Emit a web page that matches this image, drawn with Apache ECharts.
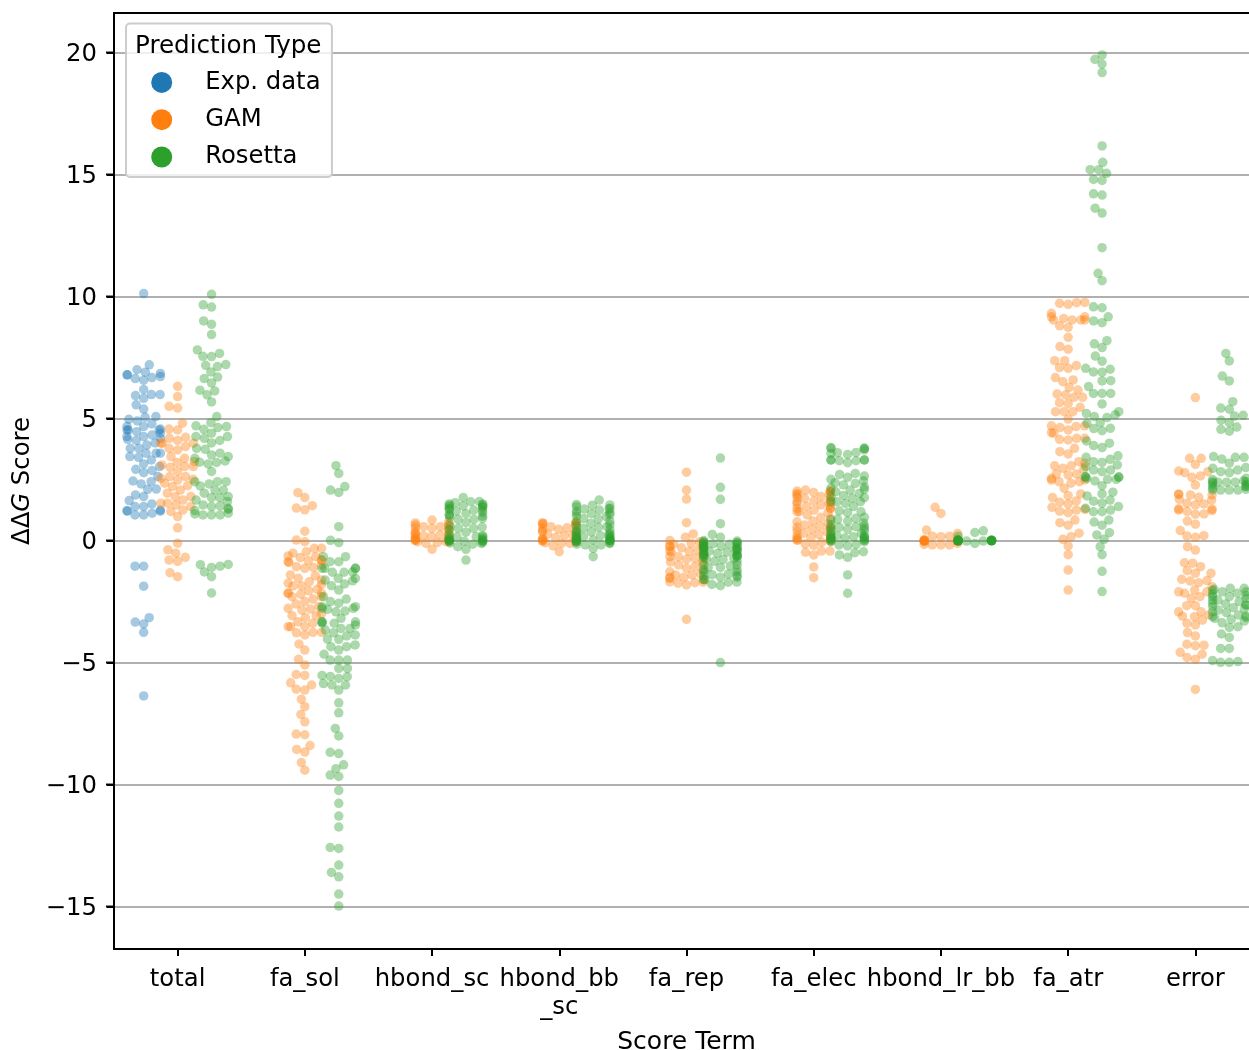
<!DOCTYPE html>
<html><head><meta charset="utf-8"><style>html,body{margin:0;padding:0;background:#fff;overflow:hidden}#c{width:1249px;height:1050px}</style>
<script src="https://cdn.jsdelivr.net/npm/echarts@6/dist/echarts.min.js"></script></head><body><div id="c"></div>
<script>
const categories=['total','fa_sol','hbond_sc','hbond_bb\n_sc','fa_rep','fa_elec','hbond_lr_bb','fa_atr','error'];
const hues=['Exp. data','GAM','Rosetta'];
const yTicks=[-15,-10,-5,0,5,10,15,20];
const totalExp=[10.12,7.2,7.0,6.9,6.79,6.79,6.85,6.72,6.64,6.68,6.57,6.19,5.94,5.98,5.98,5.83,5.56,5.39,5.08,4.97,4.9,5.05,4.78,4.67,4.53,4.4,4.26,4.67,4.53,4.33,4.19,4.57,4.53,4.46,4.26,4.1,4.15,3.92,4.0,3.78,3.78,3.58,3.58,3.58,3.41,3.44,3.14,3.3,3.03,2.92,2.87,2.78,2.62,2.41,2.44,2.32,2.11,2.1,1.87,1.8,1.64,1.5,1.39,1.39,1.23,1.2,1.12,1.05,1.05,1.25,1.2,-1.05,-1.05,-1.87,-3.16,-3.34,-3.42,-3.76,-6.37];
const totalGam=[6.32,5.9,5.5,5.43,4.81,4.53,4.57,4.23,4.19,4.1,3.99,3.99,3.99,3.85,3.78,3.71,3.37,3.44,3.24,3.1,3.2,3.03,3.03,3.0,2.83,2.62,2.62,2.48,2.55,2.51,2.35,2.25,2.21,2.07,1.94,1.8,1.8,1.66,1.53,1.53,1.46,1.39,1.25,1.19,0.98,0.52,-0.11,-0.38,-0.52,-0.69,-0.8,-0.85,-1.32,-1.48];
const totalRos=[10.09,9.66,9.57,9.0,8.86,8.44,7.81,7.67,7.54,7.55,7.21,7.18,7.13,6.91,6.7,6.64,6.46,6.16,6.13,5.97,5.68,5.08,4.83,4.7,4.67,4.63,4.56,4.4,4.26,4.26,4.19,4.1,4.0,3.78,3.74,3.58,3.51,3.44,3.37,3.26,3.21,3.2,3.14,2.83,2.41,2.41,2.41,2.32,2.24,2.07,2.07,1.94,1.8,1.76,1.76,1.66,1.6,1.46,1.42,1.39,1.32,1.28,1.23,1.09,1.05,1.05,1.05,1.12,-0.99,-1.1,-1.05,-0.98,-1.29,-1.48,-2.15];
const faSolGam=[1.96,1.76,1.43,1.33,1.26,0.38,0.02,-0.05,-0.32,-0.32,-0.52,-0.46,-0.66,-0.7,-0.8,-0.83,-0.8,-0.63,-0.87,-0.9,-1.0,-1.07,-1.14,-1.11,-1.41,-1.45,-1.55,-1.62,-1.69,-1.75,-1.8,-1.86,-1.86,-2.0,-2.06,-2.16,-2.16,-2.16,-2.2,-2.3,-2.3,-2.4,-2.5,-2.6,-2.71,-2.78,-2.81,-2.85,-3.0,-3.08,-3.08,-3.16,-3.33,-3.39,-3.53,-3.53,-3.53,-3.76,-3.78,-3.87,-3.76,-4.24,-4.49,-4.87,-5.1,-5.53,-5.49,-5.83,-6.09,-6.13,-5.92,-6.5,-6.81,-7.13,-7.43,-7.93,-7.96,-8.4,-8.56,-8.67,-9.1,-9.41];
const faSolRos=[3.07,2.75,2.21,2.07,1.97,0.57,0.01,-0.09,-0.66,-0.66,-0.87,-0.87,-1.14,-1.14,-1.14,-1.14,-1.3,-1.3,-1.28,-1.55,-1.55,-1.62,-1.65,-1.78,-1.85,-2.03,-2.3,-2.4,-2.5,-2.57,-2.71,-2.71,-2.78,-2.78,-2.82,-2.89,-2.92,-3.19,-3.33,-3.39,-3.39,-3.33,-3.33,-3.46,-3.6,-3.6,-3.67,-3.78,-3.87,-3.91,-4.04,-4.05,-4.28,-4.35,-4.35,-4.49,-4.66,-4.9,-4.9,-4.9,-5.24,-5.24,-5.53,-5.58,-5.65,-5.57,-5.92,-5.92,-5.86,-6.13,-6.65,-7.06,-7.7,-8.01,-8.68,-8.73,-9.19,-9.35,-9.61,-9.67,-10.24,-10.77,-11.29,-11.74,-12.58,-12.62,-13.3,-13.6,-13.78,-14.49,-14.98];
const hbScGam=[0.84,0.77,0.72,0.66,0.64,0.62,0.57,0.57,0.52,0.5,0.46,0.42,0.36,0.3,0.26,0.23,0.23,0.2,0.18,0.16,0.12,0.09,0.06,0.04,0.02,0.0,0.0,-0.02,-0.05,-0.05,-0.09,-0.12,-0.36];
const hbScRos=[1.76,1.6,1.59,1.55,1.5,1.5,1.46,1.45,1.42,1.4,1.38,1.35,1.3,1.28,1.25,1.25,1.2,1.15,1.1,1.05,1.05,1.0,0.95,0.91,0.87,0.87,0.73,0.6,0.55,0.5,0.5,0.45,0.34,0.25,0.2,0.16,0.16,0.15,0.1,0.08,0.05,0.03,0.02,0,0,-0.02,-0.03,-0.05,-0.08,-0.1,-0.12,-0.15,-0.25,-0.36,-0.8];
const hbBbScGam=[0.77,0.73,0.72,0.7,0.66,0.64,0.62,0.57,0.52,0.5,0.46,0.42,0.39,0.36,0.3,0.26,0.23,0.2,0.16,0.12,0.09,0.05,0.04,0.02,0.0,0.0,-0.02,-0.05,-0.09,-0.12,-0.12,-0.22,-0.46];
const hbBbScRos=[1.66,1.48,1.46,1.45,1.4,1.32,1.3,1.29,1.25,1.2,1.15,1.11,1.1,1.05,1.0,0.98,0.9,0.88,0.8,0.75,0.7,0.65,0.6,0.57,0.54,0.5,0.45,0.4,0.36,0.35,0.3,0.25,0.23,0.23,0.2,0.2,0.15,0.12,0.1,0.1,0.08,0.05,0.03,0.02,0.01,0,0,-0.02,-0.04,-0.07,-0.1,-0.12,-0.15,-0.18,-0.18,-0.32,-0.66];
const faRepGam=[2.8,2.07,1.7,0.73,0.27,0.13,-0.0,-0.05,-0.08,-0.12,-0.15,-0.18,-0.22,-0.25,-0.25,-0.3,-0.35,-0.39,-0.42,-0.45,-0.48,-0.52,-0.58,-0.66,-0.66,-0.73,-0.77,-0.83,-0.88,-0.9,-1.0,-1.07,-1.14,-1.2,-1.28,-1.37,-1.41,-1.41,-1.5,-1.51,-1.55,-1.6,-1.69,-1.7,-1.73,-1.75,-1.82,-3.23];
const faRepRos=[3.38,2.18,1.69,0.69,0.25,0.13,-0.0,-0.02,-0.05,-0.08,-0.1,-0.11,-0.13,-0.15,-0.16,-0.18,-0.2,-0.23,-0.25,-0.28,-0.3,-0.33,-0.35,-0.36,-0.38,-0.4,-0.43,-0.45,-0.48,-0.5,-0.53,-0.55,-0.58,-0.6,-0.62,-0.62,-0.65,-0.68,-0.7,-0.73,-0.75,-0.78,-0.85,-0.85,-1.0,-1.0,-1.04,-1.1,-1.1,-1.2,-1.2,-1.3,-1.3,-1.37,-1.4,-1.44,-1.45,-1.5,-1.5,-1.6,-1.6,-1.7,-1.71,-1.8,-1.85,-5.0];
const faElecGam=[2.07,2.05,2.03,2.0,2.0,1.97,1.93,1.9,1.87,1.8,1.76,1.73,1.7,1.66,1.62,1.59,1.55,1.5,1.46,1.46,1.4,1.32,1.32,1.32,1.25,1.18,1.18,1.14,1.05,0.95,0.91,0.8,0.77,0.7,0.64,0.6,0.57,0.54,0.5,0.46,0.4,0.36,0.3,0.25,0.23,0.2,0.16,0.12,0.09,0.05,0.02,0.02,-0.02,-0.07,-0.14,-0.2,-0.43,-0.43,-0.48,-0.59,-1.08,-1.52];
const faElecRos=[3.81,3.78,3.78,3.78,3.71,3.61,3.6,3.57,3.53,3.3,3.3,3.3,3.3,3.27,3.27,3.19,2.75,2.71,2.64,2.59,2.51,2.45,2.37,2.34,2.28,2.2,2.15,2.1,2.07,2.0,1.93,1.85,1.8,1.76,1.73,1.59,1.59,1.59,1.52,1.39,1.22,1.18,1.14,0.95,0.91,0.87,0.85,0.8,0.72,0.65,0.6,0.57,0.54,0.5,0.5,0.46,0.4,0.4,0.3,0.3,0.2,0.2,0.16,0.15,0.12,0.12,0.12,0.1,0.08,0.05,0.04,0,0,-0.05,-0.05,-0.16,-0.18,-0.22,-0.46,-0.5,-0.59,-0.69,-1.41,-2.16];
const hbLrGam=[1.36,1.11,0.43,0.29,0.18,0.18,0.16,0.05,0.04,0.02,0.01,0,0,0,0,-0.01,-0.02,-0.03,-0.05,-0.12,-0.16,-0.18,-0.18,-0.18];
const hbLrRos=[0.4,0.33,0.18,0.02,0.01,0,0,0,0,0,0,0,0,0,0,0,0,0,0,-0.01,-0.02,-0.02,-0.02,-0.12];
const faAtrGam=[9.76,9.75,9.72,9.68,9.31,9.17,9.17,9.1,9.04,9.04,9.04,9.04,8.8,8.74,8.33,7.95,7.84,7.37,7.37,7.09,7.06,7.17,6.68,6.58,6.51,6.28,6.17,6.01,5.97,5.87,5.87,5.65,5.62,5.46,5.28,5.28,5.28,4.98,4.7,4.63,4.53,4.67,4.7,4.4,4.42,4.19,4.15,4.19,4.12,3.78,3.64,3.55,3.23,3.06,3.06,3.17,2.96,2.93,2.73,2.69,2.73,2.55,2.49,2.48,2.35,2.41,2.41,2.14,1.91,1.84,1.76,1.62,1.5,1.57,1.28,1.2,1.14,1.25,1.36,0.73,0.63,0.84,0.3,0.16,0.05,-0.22,-0.58,-1.21,-2.03];
const faAtrRos=[19.9,19.72,19.53,19.18,16.17,15.5,15.2,15.2,15.05,14.8,14.76,14.21,14.16,13.62,13.42,12.0,10.95,10.65,9.58,9.54,9.17,9.0,8.93,8.19,8.06,7.91,7.56,7.35,7.06,7.02,6.91,6.9,6.55,6.54,6.31,6.03,6.03,6.03,5.6,5.28,5.21,5.15,5.08,5.04,4.83,4.8,4.6,4.5,4.59,4.08,3.99,3.89,3.81,3.47,3.33,3.23,3.2,3.41,3.1,3.03,2.89,2.82,2.89,2.62,2.6,2.55,2.6,2.6,2.51,2.44,2.51,2.25,1.98,1.91,1.83,1.66,1.61,1.53,1.39,1.25,1.18,1.18,1.32,0.84,0.76,0.63,0.32,0.23,0.05,-0.25,-0.58,-1.26,-2.09];
const errorGam=[5.86,3.37,3.12,3.37,2.85,2.78,2.59,2.65,2.82,2.28,1.9,1.87,1.77,1.87,1.9,1.69,1.53,1.46,1.5,1.66,1.3,1.25,1.19,1.09,1.08,1.29,1.23,0.8,0.67,0.41,0.19,0.13,0.2,-0.25,-0.39,-0.91,-0.93,-1.23,-1.34,-1.07,-1.34,-1.59,-1.64,-1.66,-1.73,-1.89,-2.03,-2.1,-2.16,-2.37,-2.3,-2.1,-2.67,-2.67,-3.05,-3.1,-2.92,-2.92,-3.12,-3.26,-3.39,-3.46,-3.77,-3.91,-4.25,-4.31,-4.29,-4.58,-4.66,-4.79,-4.87,-6.1];
const errorRos=[7.67,7.36,6.74,6.54,5.69,5.38,5.43,5.1,5.13,4.93,4.83,4.65,4.56,4.48,3.41,3.41,3.17,3.34,3.44,2.96,2.89,2.78,2.82,2.99,2.55,2.5,2.45,2.41,2.41,2.35,2.3,2.25,2.21,2.21,2.15,2.1,2.07,2.39,2.39,2.39,2.07,2.07,2.07,-1.96,-2.0,-1.96,-2.05,-2.1,-2.1,-2.16,-2.2,-2.25,-2.3,-2.3,-2.37,-2.44,-2.44,-2.5,-2.57,-2.6,-2.64,-2.64,-2.71,-2.75,-2.8,-2.85,-2.92,-2.95,-3.05,-3.09,-3.12,-3.15,-3.19,-3.23,-3.3,-3.37,-3.53,-3.56,-3.83,-3.97,-4.42,-4.42,-4.92,-4.99,-4.99,-4.96];

const groups=[[0,0,totalExp],[0,1,totalGam],[0,2,totalRos],[1,1,faSolGam],[1,2,faSolRos],[2,1,hbScGam],[2,2,hbScRos],[3,1,hbBbScGam],[3,2,hbBbScRos],[4,1,faRepGam],[4,2,faRepRos],[5,1,faElecGam],[5,2,faElecRos],[6,1,hbLrGam],[6,2,hbLrRos],[7,1,faAtrGam],[7,2,faAtrRos],[8,1,errorGam],[8,2,errorRos]];

// Beeswarm layout: places each y value at the x offset nearest the group centre without overlap, then clamps to a gutter.
const PXX=127.25,PXY=24.4,DIAM=8.25,GUTTER=16.7;
function swarm(ys){
  const s=ys.slice().sort((a,b)=>a-b).map(v=>v*PXY);const placed=[];
  s.forEach(y=>{
    const near=placed.filter(p=>Math.abs(p[1]-y)<DIAM);
    const cands=[0];let left=true;
    near.forEach(p=>{const dy=y-p[1];const dx=Math.sqrt(Math.max(DIAM*DIAM-dy*dy,0))*1.05;
      if(left)cands.push(p[0]-dx,p[0]+dx);else cands.push(p[0]+dx,p[0]-dx);left=!left;});
    const sorted=cands.map((c,i)=>[c,i]).sort((a,b)=>Math.abs(a[0])-Math.abs(b[0])||a[1]-b[1]);
    let x=0;for(const [c] of sorted){if(near.every(p=>{const a=p[0]-c,b=p[1]-y;return a*a+b*b>=DIAM*DIAM*0.98;})){x=c;break;}}
    placed.push([x,y]);
  });
  return placed.map(p=>[Math.max(-GUTTER,Math.min(GUTTER,p[0]))/PXX,p[1]/PXY]);
}
const hueData=[[],[],[]];
groups.forEach(([c,h,ys])=>{swarm(ys).forEach(p=>hueData[h].push([c+(h-1)*0.2667+p[0],p[1]]));});
const colors=['#1f77b4','#ff7f0e','#2ca02c'];
const FONT='"DejaVu Sans"',FS=24.3;
const chart=echarts.init(document.getElementById('c'),null,{renderer:'canvas'});
chart.setOption({
  animation:false,backgroundColor:'#fff',
  title:{text:'Prediction Type',left:130,top:29,z:10,textStyle:{fontFamily:FONT,fontSize:24.6,fontWeight:'normal',color:'#000'}},
  legend:{data:hues,orient:'vertical',left:126,top:23.5,align:'left',icon:'circle',itemWidth:45,itemHeight:21,itemGap:13.3,padding:[46.9,11.4,8,25.2],
    backgroundColor:'rgba(255,255,255,0.8)',borderColor:'#ccc',borderWidth:2,borderRadius:4,selectedMode:false,
    itemStyle:{opacity:1},textStyle:{fontFamily:FONT,fontSize:FS,color:'#000',padding:[0,0,0,16]}},
  grid:{left:114,top:13,width:1145,height:936,show:true,borderColor:'#000',borderWidth:2,backgroundColor:'transparent',outerBoundsMode:'none'},
  xAxis:[
   {type:'category',data:categories,boundaryGap:true,position:'bottom',name:'Score Term',nameLocation:'middle',nameGap:81,
    nameTextStyle:{fontFamily:FONT,fontSize:25,color:'#000'},
    axisLine:{show:true,onZero:false,lineStyle:{color:'#000',width:2}},axisTick:{show:true,inside:false,alignWithLabel:true,length:7,lineStyle:{color:'#000',width:2}},
    axisLabel:{interval:0,margin:17,fontFamily:FONT,fontSize:FS,color:'#000',lineHeight:28},splitLine:{show:false}},
   {type:'value',min:-0.5,max:8.5,show:false,splitLine:{show:false}}
  ],
  yAxis:{type:'value',min:-16.74,max:21.62,name:'ΔΔ{i|G} Score',nameLocation:'middle',nameGap:78,
    nameTextStyle:{fontFamily:FONT,fontSize:FS,color:'#000',rich:{i:{fontFamily:FONT,fontSize:FS,fontStyle:'italic',color:'#000'}}},
    axisLine:{show:true,onZero:false,lineStyle:{color:'#000',width:2}},
    axisTick:{show:true,inside:false,length:7,lineStyle:{color:'#000',width:2},customValues:yTicks},
    axisLabel:{margin:17,fontFamily:FONT,fontSize:FS,color:'#000',customValues:yTicks,formatter:v=>'{a|'+String(v).replace('-','\u2212')+'}',rich:{a:{fontFamily:FONT,fontSize:FS,color:'#000',padding:[4,0,0,0]}}},
    splitLine:{show:true,lineStyle:{color:'#b0b0b0',width:2}}},
  series:[{type:'scatter',name:'_axis',xAxisIndex:0,data:[]},
    {type:'scatter',name:'_yticks',xAxisIndex:1,yAxisIndex:0,clip:false,silent:true,symbol:'rect',symbolSize:[8,2],symbolOffset:[-4,0],z:20,
     itemStyle:{color:'#000',opacity:1},data:yTicks.map(v=>[-0.5,v])}
  ].concat(hues.map((n,i)=>({
    type:'scatter',name:n,xAxisIndex:1,yAxisIndex:0,data:hueData[i],symbol:'circle',symbolSize:9.5,
    itemStyle:{color:colors[i],opacity:0.4,borderWidth:0},emphasis:{disabled:true},silent:true,clip:true})))
});
</script></body></html>
